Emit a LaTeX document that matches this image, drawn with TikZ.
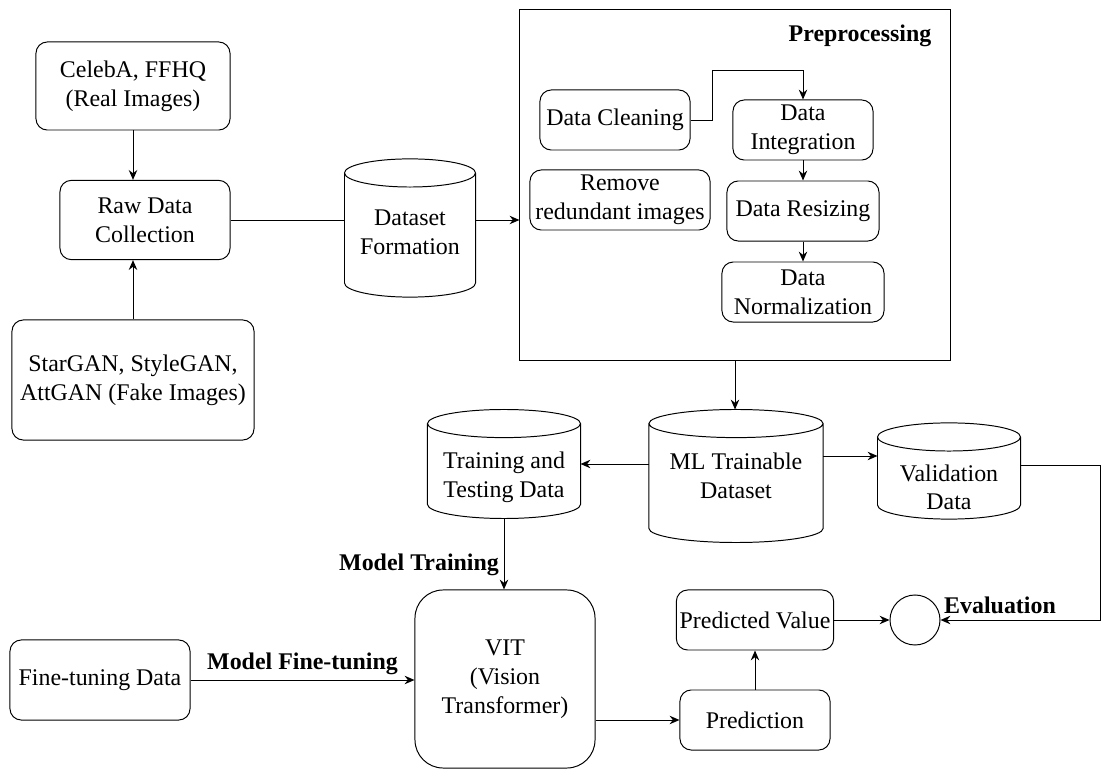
\documentclass[tikz,border=0pt]{standalone}
\usepackage{fontspec}
\setmainfont{Liberation Serif}
\usetikzlibrary{arrows.meta,positioning,calc}

\begin{document}
\begin{tikzpicture}[x=0.025cm,y=-0.025cm,->,>={Stealth[length=7pt,width=6pt]},
  line width=0.7pt,node distance=0.5cm,
  every node/.style={font=\fontsize{17}{20.5}\selectfont},
  box/.style={draw,rounded corners=8pt,align=center,inner sep=2pt},
  db/.style={align=center,inner sep=0pt},
  tag/.style={font=\fontsize{17}{20.5}\selectfont\bfseries}]

  \useasboundingbox (0,0) rectangle (1120,780);

  % sources
  \node[box,minimum width=4.85cm,minimum height=2.2cm] (celeba) at (133,86) {CelebA, FFHQ\\(Real Images)};
  \node[box,minimum width=4.25cm,minimum height=1.98cm] (raw) at (145,220) {Raw Data\\Collection};
  \node[box,minimum width=6.05cm,minimum height=3cm] (stargan) at (133,380) {StarGAN, StyleGAN,\\AttGAN (Fake Images)};
  \node[db,minimum width=3.25cm,minimum height=3.43cm] (dsform) at (410,228) {\rule{0pt}{17pt}Dataset\\Formation};

  % preprocessing block
  \node[draw,minimum width=10.75cm,minimum height=8.75cm] (prep) at (735,185) {};
  \node[tag] (preptitle) at (860,36) {Preprocessing};
  \node[box,minimum width=3.75cm,minimum height=1.5cm] (clean) at (615,120) {Data Cleaning};
  \node[box,minimum width=3.5cm,minimum height=1.5cm] (integ) at (803,130) {Data\\Integration};
  \node[box,minimum width=3.8cm,minimum height=1.5cm,below=0.5cm of integ] (resize) {Data Resizing};
  \node[box,minimum width=4.05cm,minimum height=1.5cm,below=0.5cm of resize] (norm) {Data\\Normalization};
  \node[box,minimum width=4.5cm,minimum height=1.5cm] (remove) at (620,200) {Remove\\redundant images};
  \coordinate (bend) at (712,70);

  % datasets
  \node[db,minimum width=4.33cm,minimum height=3.3cm] (mlset) at (736,476) {ML Trainable\\Dataset};
  \node[db,minimum width=3.8cm,minimum height=2.7cm] (train) at (504,464) {\rule{0pt}{31pt}Training and\\Testing Data};
  \node[db,minimum width=3.55cm,minimum height=2.38cm] (valid) at (949,471) {\rule{0pt}{35pt}Validation\\Data};
  \foreach \cyl in {dsform,mlset,train,valid}
    \draw[-] let \p1=($(\cyl.east)-(\cyl.west)$) in
      ([yshift=-10pt]\cyl.north west) -- ([yshift=10pt]\cyl.south west)
      arc[start angle=180,end angle=360,x radius=0.5*\x1,y radius=10pt]
      -- ([yshift=-10pt]\cyl.north east)
      arc[start angle=0,end angle=360,x radius=0.5*\x1,y radius=10pt];

  % model and evaluation
  \node[box,rounded corners=20pt,minimum width=4.5cm,minimum height=4.45cm] (vit) at (505,679) {VIT\\(Vision\\Transformer)};
  \node[box,minimum width=4.5cm,minimum height=2cm] (fine) at (100,680) {Fine-tuning Data};
  \node[box,minimum width=3.75cm,minimum height=1.5cm] (predict) at (755,720) {Prediction};
  \node[box,minimum width=3.93cm,minimum height=1.5cm] (predval) at (755,620) {Predicted Value};
  \node[draw,circle,minimum size=1.25cm] (evalc) at (915,620) {};
  \node[tag] (evaltag) at (1000,605) {Evaluation};

  \path (celeba.south) edge (celeba.south |- raw.north)
        (stargan.north) edge (stargan.north |- raw.south);
  \draw[-] (raw.east) -- (raw.east -| dsform.west);
  \path (dsform.east |- raw.east) edge (raw.east -| prep.west);

  \draw (clean.east) -| (bend) -| (integ.north);
  \path (integ) edge (resize)
        (resize) edge (norm);
  \path (prep.south) edge (prep.south |- mlset.north);

  \path (train.east -| mlset.west) edge (train.east)
        ([yshift=0.375cm]valid.west -| mlset.east) edge ([yshift=0.375cm]valid.west);
  \draw ([yshift=0.15cm]valid.east) -- ++(2cm,0) |- (evalc.east);

  \path (train.south) edge node[tag,left,pos=0.65] {Model Training} (train.south |- vit.north)
        (fine.east) edge node[tag,above] {Model Fine-tuning} (fine.east -| vit.west)
        (vit.east |- predict.west) edge (predict.west)
        (predict) edge (predval)
        (predval) edge (evalc);

\end{tikzpicture}
\end{document}
